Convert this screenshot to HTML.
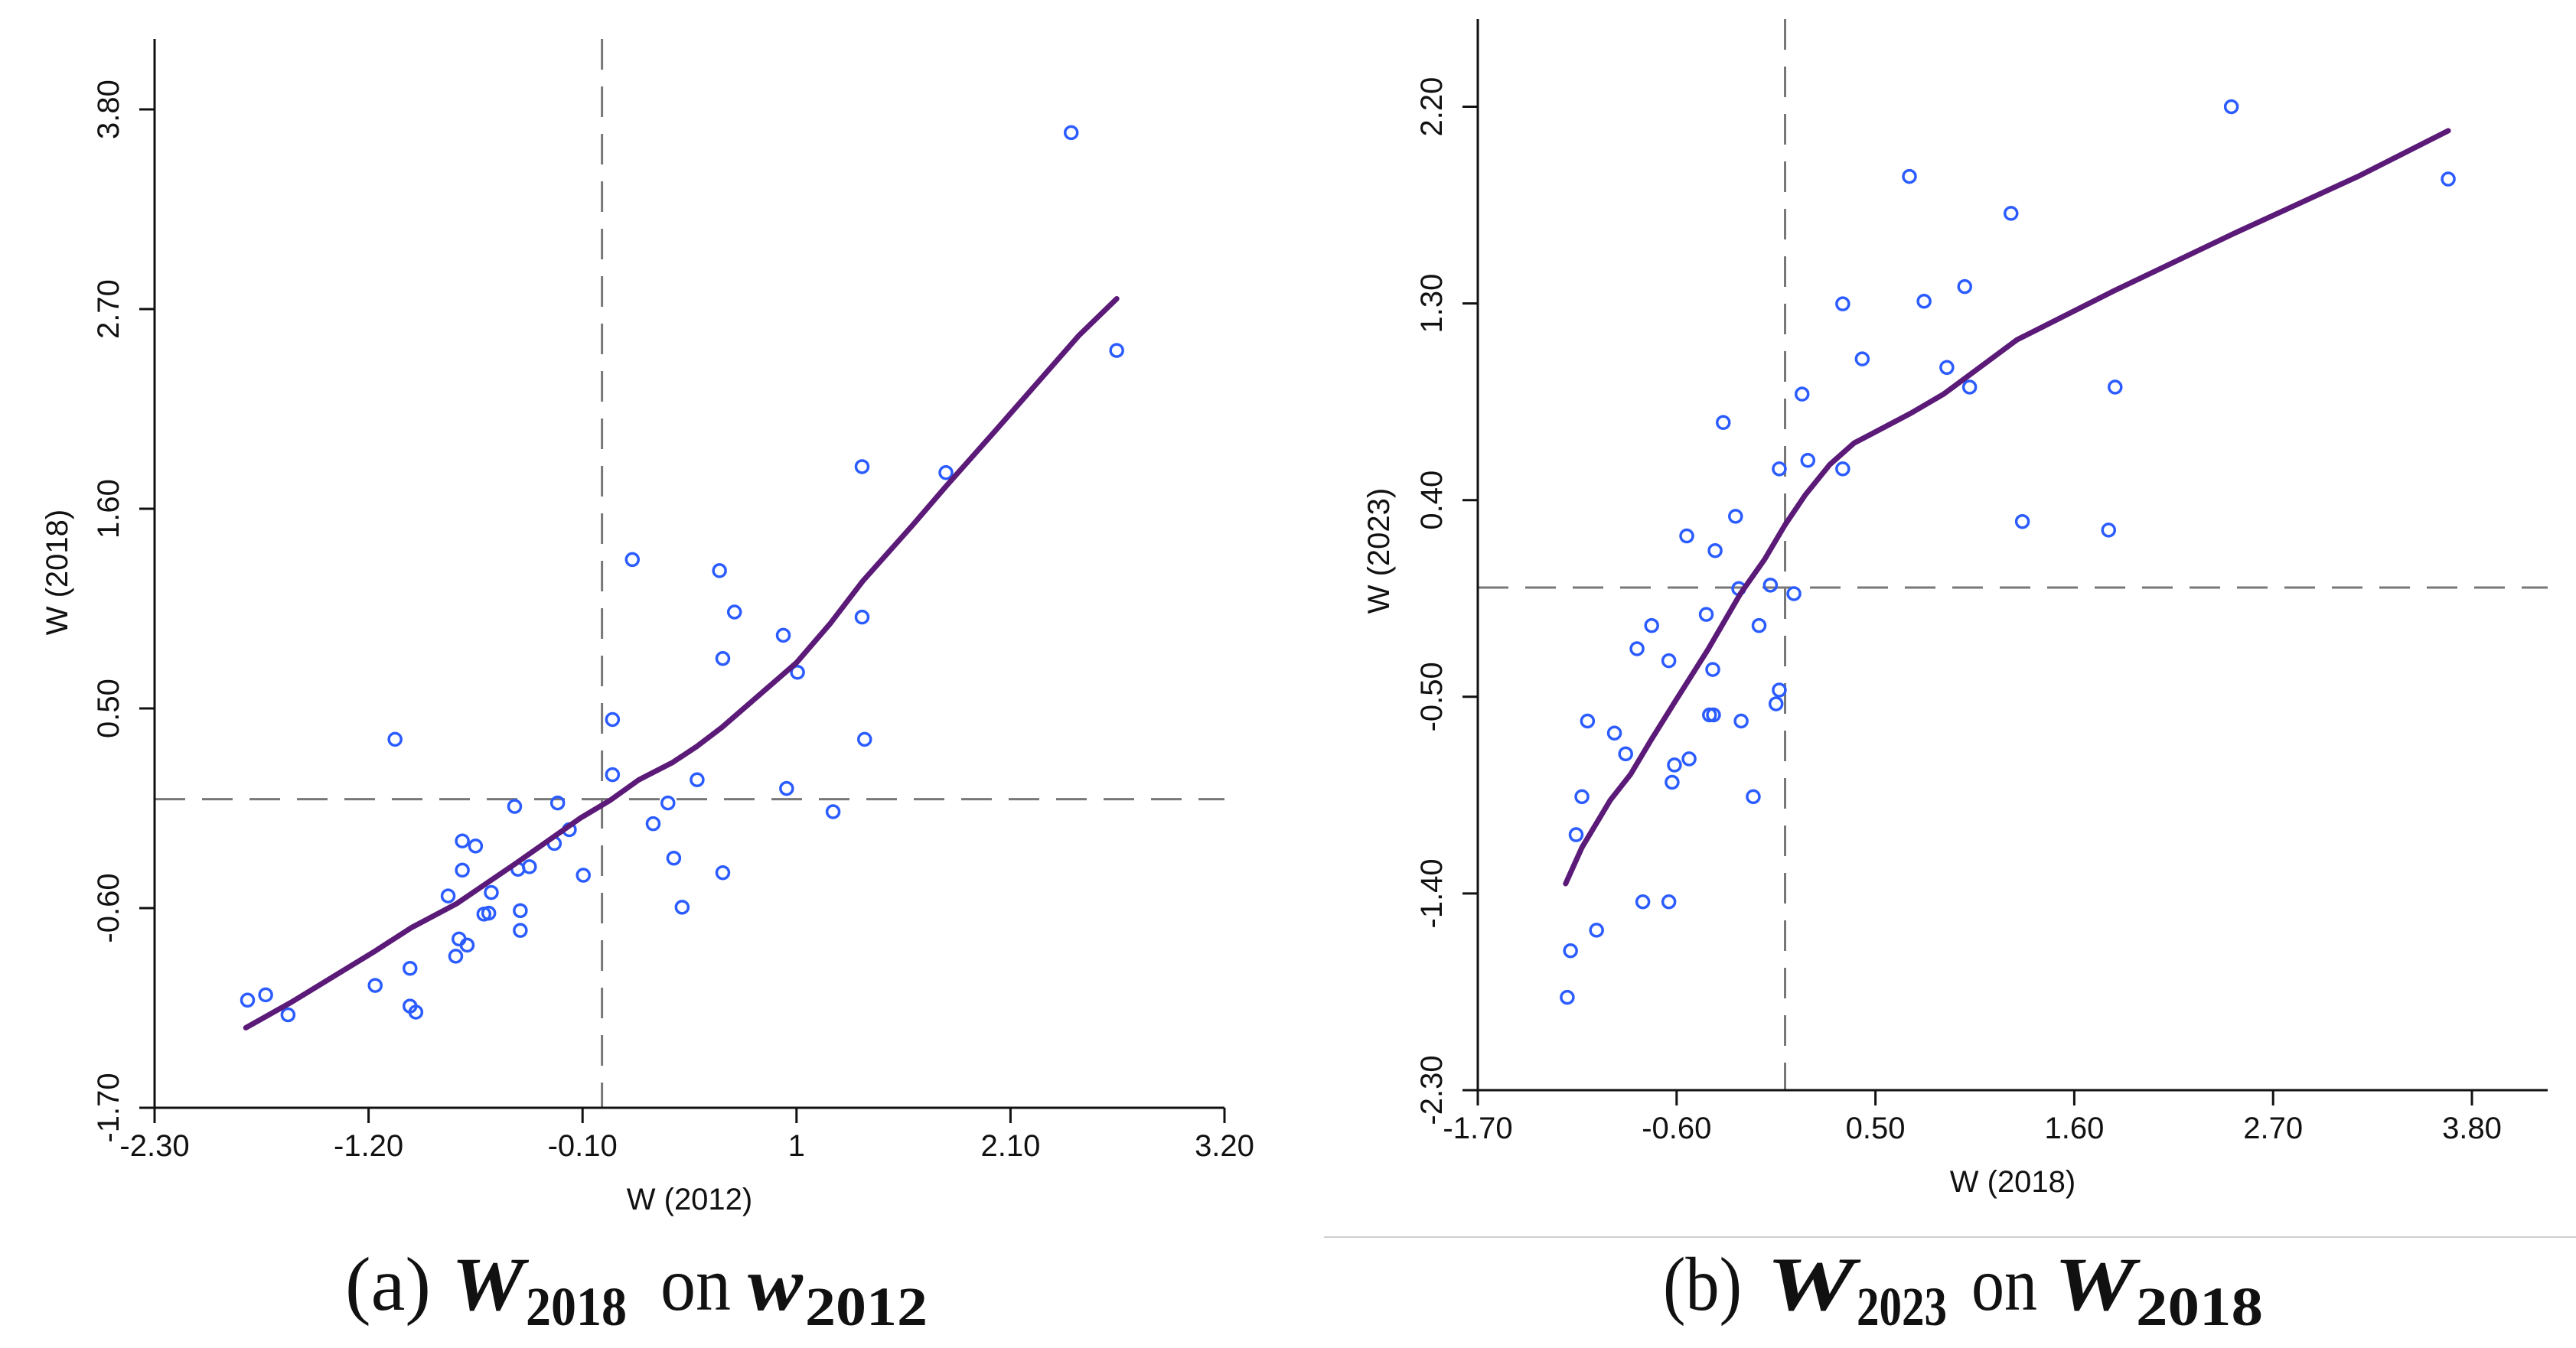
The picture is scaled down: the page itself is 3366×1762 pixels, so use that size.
<!DOCTYPE html>
<html><head><meta charset="utf-8">
<style>
html,body{margin:0;padding:0;background:#fff;}
svg{display:block;}
.tk{font-family:"Liberation Sans",Arial,sans-serif;font-size:40px;fill:#111;}
.cap{font-family:"Liberation Serif","DejaVu Serif",serif;font-size:100px;fill:#111;}
.capb{font-family:"Liberation Serif","DejaVu Serif",serif;font-size:100px;fill:#111;font-weight:bold;font-style:italic;}
.caps{font-family:"Liberation Serif","DejaVu Serif",serif;font-size:72px;fill:#111;font-weight:bold;}
</style></head>
<body>
<svg id="chart" width="3366" height="1762" viewBox="0 0 3366 1762" xmlns="http://www.w3.org/2000/svg">
<line x1="1730" y1="1617" x2="3366" y2="1617" stroke="#cfcfcf" stroke-width="2"/>
<g>
<text class="cap" x="451" y="1712" textLength="112" lengthAdjust="spacingAndGlyphs">(a)</text>
<text class="capb" x="590" y="1712" textLength="95" lengthAdjust="spacingAndGlyphs">W</text>
<text class="caps" x="687" y="1732" textLength="132" lengthAdjust="spacingAndGlyphs">2018</text>
<text class="cap" x="863" y="1712" textLength="92" lengthAdjust="spacingAndGlyphs">on</text>
<text class="capb" x="977" y="1712" textLength="72" lengthAdjust="spacingAndGlyphs">w</text>
<text class="caps" x="1052" y="1732" textLength="160" lengthAdjust="spacingAndGlyphs">2012</text>
</g>
<g>
<text class="cap" x="2173" y="1712" textLength="103" lengthAdjust="spacingAndGlyphs">(b)</text>
<text class="capb" x="2308" y="1712" textLength="116" lengthAdjust="spacingAndGlyphs">W</text>
<text class="caps" x="2426" y="1732" textLength="118" lengthAdjust="spacingAndGlyphs">2023</text>
<text class="cap" x="2576" y="1712" textLength="86" lengthAdjust="spacingAndGlyphs">on</text>
<text class="capb" x="2684" y="1712" textLength="106" lengthAdjust="spacingAndGlyphs">W</text>
<text class="caps" x="2791" y="1732" textLength="166" lengthAdjust="spacingAndGlyphs">2018</text>
</g>
</svg>
<script>
// ---- Panel A data ----
const aXTicks = ["-2.30","-1.20","-0.10","1","2.10","3.20"];
const aXTickVals = [-2.3,-1.2,-0.1,1,2.1,3.2];
const aYTicks = ["-1.70","-0.60","0.50","1.60","2.70","3.80"];
const aYTickVals = [-1.7,-0.6,0.5,1.6,2.7,3.8];
const aPtsX = [-1.822,-1.729,-1.614,-1.166,-0.987,-0.987,-0.957,-1.064,-0.791,-0.752,-0.735,-0.693,-0.718,-0.650,-0.718,-0.569,-0.607,-0.582,-0.420,-0.420,-0.449,-0.432,-0.373,-0.245,-0.228,-0.168,-0.096,0.054,0.054,0.156,0.263,0.339,0.369,0.412,0.489,0.604,0.621,0.621,0.681,0.932,0.949,1.005,1.188,1.337,1.337,1.350,1.768,2.412,2.646];
const aPtsY = [-1.107,-1.078,-1.188,-1.026,-0.932,-1.140,-1.173,0.330,-0.533,-0.865,-0.770,-0.804,-0.230,-0.258,-0.391,-0.514,-0.633,-0.628,-0.614,-0.723,-0.040,-0.386,-0.372,-0.244,-0.021,-0.168,-0.419,0.439,0.135,1.320,-0.135,-0.021,-0.325,-0.595,0.107,1.259,0.775,-0.405,1.031,0.903,0.059,0.699,-0.069,1.832,1.003,0.330,1.799,3.672,2.472];
const aFitX = [-1.831,-1.601,-1.174,-0.982,-0.748,-0.449,-0.108,0.041,0.190,0.361,0.489,0.617,0.744,1.000,1.171,1.341,1.597,1.768,2.024,2.450,2.646];
const aFitY = [-1.259,-1.121,-0.842,-0.709,-0.576,-0.358,-0.102,-0.007,0.107,0.201,0.292,0.396,0.514,0.752,0.965,1.202,1.510,1.723,2.032,2.553,2.757];
// ---- Panel B data ----
const bXTicks = ["-1.70","-0.60","0.50","1.60","2.70","3.80"];
const bXTickVals = [-1.7,-0.6,0.5,1.6,2.7,3.8];
const bYTicks = ["-2.30","-1.40","-0.50","0.40","1.30","2.20"];
const bYTickVals = [-2.3,-1.4,-0.5,0.4,1.3,2.2];
const bPtsX = [-1.205,-1.187,-1.043,-1.156,-1.124,-1.093,-0.944,-0.882,-0.787,-0.643,-0.819,-0.738,-0.643,-0.625,-0.612,-0.531,-0.544,-0.436,-0.400,-0.418,-0.396,-0.387,-0.342,-0.274,-0.256,-0.243,-0.176,-0.144,-0.081,-0.050,-0.032,-0.032,0.049,0.094,0.126,0.319,0.319,0.427,0.688,0.769,0.895,0.994,1.021,1.250,1.313,1.790,1.826,2.469,3.669];
const bPtsY = [-1.875,-1.662,-1.568,-1.131,-0.957,-0.611,-0.666,-0.761,-1.438,-1.438,-0.280,-0.174,-0.335,-0.891,-0.812,-0.784,0.236,-0.123,-0.375,-0.583,-0.583,0.169,0.755,0.326,-0.005,-0.611,-0.957,-0.174,0.011,-0.532,-0.469,0.543,-0.028,0.885,0.582,1.298,0.543,1.046,1.881,1.310,1.007,1.377,0.917,1.712,0.302,0.263,0.917,2.200,1.869];
const bFitX = [-1.214,-1.124,-0.967,-0.855,-0.742,-0.607,-0.427,-0.247,-0.113,0.000,0.112,0.247,0.382,0.472,0.697,0.877,1.057,1.282,1.821,2.496,3.170,3.669];
const bFitY = [-1.355,-1.190,-0.973,-0.855,-0.698,-0.520,-0.284,-0.028,0.129,0.287,0.424,0.562,0.661,0.700,0.798,0.885,0.995,1.133,1.358,1.625,1.881,2.090];

const NS="http://www.w3.org/2000/svg";
const svg=document.getElementById('chart');
function mk(tag,attrs,parent){const e=document.createElementNS(NS,tag);for(const k in attrs)e.setAttribute(k,attrs[k]);(parent||svg).appendChild(e);return e;}

function panel(id,cfg,xt,xtv,yt,ytv,px,py,fx,fy,xtitle,ytitle){
  const g=mk('g',{});
  
  
  const X=v=>cfg.x0+(v-cfg.xmin)/(cfg.xmax-cfg.xmin)*(cfg.x1-cfg.x0);
  const Y=v=>cfg.yb-(v-cfg.ymin)/(cfg.ymax-cfg.ymin)*(cfg.yb-cfg.yt);
  const vz=mk('line',{x1:X(0),x2:X(0),y1:cfg.top,y2:cfg.yb,stroke:'#777','stroke-width':3,'stroke-dasharray':'40 22'},g);
  
  
  const hz=mk('line',{x1:cfg.x0,x2:cfg.xend,y1:Y(0),y2:Y(0),stroke:'#777','stroke-width':3,'stroke-dasharray':'40 22'},g);
  
  
  const ya=mk('line',{x1:cfg.x0,x2:cfg.x0,y1:cfg.top,y2:cfg.yb,stroke:'#111','stroke-width':3},g);
  
  
  const xa=mk('line',{x1:cfg.x0,x2:cfg.xend,y1:cfg.yb,y2:cfg.yb,stroke:'#111','stroke-width':3},g);
  
  
  xtv.forEach((v,i)=>{
    const t=mk('line',{x1:X(v),x2:X(v),y1:cfg.yb,y2:cfg.yb+20,stroke:'#111','stroke-width':3},g);
    
    
    const l=mk('text',{x:X(v),y:cfg.yb+63,'text-anchor':'middle','class':'tk'},g);
    l.textContent=xt[i];
    
    
  });
  ytv.forEach((v,i)=>{
    const t=mk('line',{x1:cfg.x0-20,x2:cfg.x0,y1:Y(v),y2:Y(v),stroke:'#111','stroke-width':3},g);
    
    
    const lx=cfg.x0-47;
    const l=mk('text',{x:lx,y:Y(v),'text-anchor':'middle','class':'tk',transform:`rotate(-90 ${lx} ${Y(v)})`},g);
    l.textContent=yt[i];
    
    
  });
  const xtl=mk('text',{x:(cfg.x0+cfg.xend)/2,y:cfg.yb+133,'text-anchor':'middle','class':'tk'},g);
  xtl.textContent=xtitle;
  
  
  const yx=cfg.ytx, yy=cfg.yty;
  const ytl=mk('text',{x:yx,y:yy,'text-anchor':'middle','class':'tk',transform:`rotate(-90 ${yx} ${yy})`},g);
  ytl.textContent=ytitle;
  
  
  px.forEach((v,i)=>{
    const c=mk('circle',{cx:X(v),cy:Y(py[i]),r:8,fill:'none',stroke:'#2b5cff','stroke-width':3.5},g);
    
    
  });
  const d=fx.map((v,i)=>(i?'L':'M')+X(v).toFixed(1)+','+Y(fy[i]).toFixed(1)).join(' ');
  const p=mk('path',{d:d,fill:'none',stroke:'#5b1a78','stroke-width':7,'stroke-linejoin':'round','stroke-linecap':'round'},g);
  
  
}
panel('panel-a',{x0:202,x1:1600,xend:1600,xmin:-2.3,xmax:3.2,yb:1448,yt:143,ymin:-1.7,ymax:3.8,top:51,ytx:88,yty:748},
  aXTicks,aXTickVals,aYTicks,aYTickVals,aPtsX,aPtsY,aFitX,aFitY,'W (2012)','W (2018)');
panel('panel-b',{x0:1931,x1:3230,xend:3329,xmin:-1.7,xmax:3.8,yb:1425,yt:139.5,ymin:-2.3,ymax:2.2,top:25,ytx:1815,yty:720},
  bXTicks,bXTickVals,bYTicks,bYTickVals,bPtsX,bPtsY,bFitX,bFitY,'W (2018)','W (2023)');
</script>
</body></html>
